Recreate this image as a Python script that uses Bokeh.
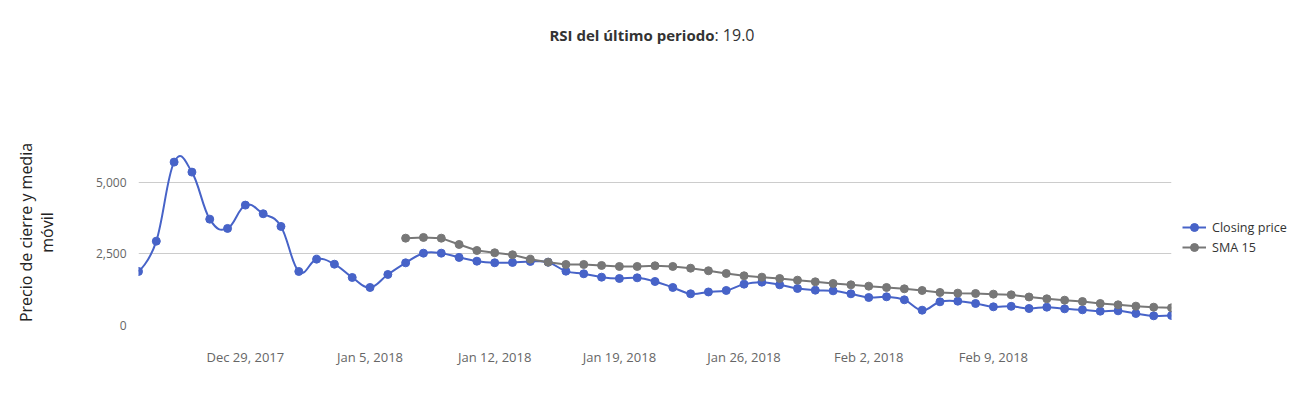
import pandas as pd
from bokeh.plotting import figure
from bokeh.layouts import column
from bokeh.models import (Range1d, FixedTicker, NumeralTickFormatter, Label,
                          Legend, LegendItem, ColumnDataSource)
from bokeh.embed import file_html
from bokeh.resources import INLINE

# ---------------- data ----------------
start_date = "2017-12-23"
closing_price = [1888, 2948, 5710, 5360, 3717, 3392, 4207, 3905, 3462, 1888,
                 2318, 2143, 1678, 1329, 1783, 2190, 2528, 2528, 2378, 2248,
                 2192, 2203, 2238, 2213, 1899, 1807, 1689, 1643, 1667, 1538,
                 1329, 1108, 1172, 1224, 1445, 1515, 1422, 1294, 1235, 1212,
                 1108, 979, 1003, 898, 535, 828, 851, 769, 653, 670,
                 594, 641, 583, 548, 501, 513, 420, 338, 350]
sma_offset = 15  # SMA 15 starts at the 16th day
sma_15 = [3052, 3077, 3052, 2832, 2622, 2542, 2472, 2318, 2213, 2133,
          2133, 2098, 2063, 2063, 2087, 2063, 2003, 1913, 1818, 1737,
          1689, 1643, 1585, 1527, 1469, 1422, 1375, 1329, 1282, 1224,
          1154, 1131, 1119, 1096, 1072, 997, 933, 885, 839, 769,
          723, 676, 641, 618]
x_tick_dates = ["2017-12-29", "2018-01-05", "2018-01-12", "2018-01-19",
                "2018-01-26", "2018-02-02", "2018-02-09"]
x_tick_labels = ["Dec 29, 2017", "Jan 5, 2018", "Jan 12, 2018", "Jan 19, 2018",
                 "Jan 26, 2018", "Feb 2, 2018", "Feb 9, 2018"]
y_ticks = [0, 2500, 5000]
title_bold = "RSI del último periodo"
title_rest = ": 19.0"
y_title = "Precio de cierre y media\nmóvil"
series_names = ["Closing price", "SMA 15"]

# ---------------- styling ----------------
FONT = "Open Sans"
BLUE = "#4763c8"
GRAY = "#777777"
TOP_H = 70
FRAME_LEFT = 138

dates = pd.date_range(start_date, periods=len(closing_price), freq="D")
xs = [d.value / 1e6 for d in dates]  # ms
sma_xs = xs[sma_offset:sma_offset + len(sma_15)]


def spline_segments(x, y, smoothing=1.5):
    """Highcharts-style spline control points, drawn with Bokeh bezier glyphs."""
    n = len(x)
    den = smoothing + 1
    left = [(x[i], y[i]) for i in range(n)]
    right = [(x[i], y[i]) for i in range(n)]
    for i in range(1, n - 1):
        lx = (smoothing * x[i] + x[i - 1]) / den
        ly = (smoothing * y[i] + y[i - 1]) / den
        rx = (smoothing * x[i] + x[i + 1]) / den
        ry = (smoothing * y[i] + y[i + 1]) / den
        corr = (ry - ly) * (rx - x[i]) / (rx - lx) + y[i] - ry
        left[i] = (lx, ly + corr)
        right[i] = (rx, ry + corr)
    seg = dict(x0=[], y0=[], x1=[], y1=[], cx0=[], cy0=[], cx1=[], cy1=[])
    for i in range(n - 1):
        seg["x0"].append(x[i]); seg["y0"].append(y[i])
        seg["x1"].append(x[i + 1]); seg["y1"].append(y[i + 1])
        seg["cx0"].append(right[i][0]); seg["cy0"].append(right[i][1])
        seg["cx1"].append(left[i + 1][0]); seg["cy1"].append(left[i + 1][1])
    return seg


# ---------------- title strip ----------------
top = figure(width=1310, height=TOP_H, output_backend="svg", toolbar_location=None,
             x_range=Range1d(0, 1310), y_range=Range1d(0, TOP_H),
             x_axis_location=None, y_axis_location=None,
             min_border_left=0, min_border_right=0, min_border_top=0, min_border_bottom=0,
             frame_width=1310, frame_height=TOP_H,
             background_fill_color="white", border_fill_color="white")
top.outline_line_color = None
top.grid.visible = False
# the column layout aligns this frame with the main chart's frame (left edge 138)
top.add_layout(Label(x=714 - FRAME_LEFT, y=TOP_H - 34, x_units="screen", y_units="screen",
                     text=title_bold, text_font=FONT, text_font_size="15px",
                     text_font_style="bold", text_color="#333333",
                     text_align="right", text_baseline="middle"))
top.add_layout(Label(x=714 - FRAME_LEFT, y=TOP_H - 34, x_units="screen", y_units="screen",
                     text=title_rest, text_font=FONT, text_font_size="16px",
                     text_color="#333333", text_align="left", text_baseline="middle"))

# ---------------- main chart ----------------
p = figure(x_axis_type="datetime", output_backend="svg", toolbar_location=None,
           frame_width=1033, frame_height=186,
           min_border_left=FRAME_LEFT, min_border_right=139,
           min_border_top=139 - TOP_H, min_border_bottom=84,
           x_range=Range1d(xs[0], xs[-1]), y_range=Range1d(0, 6500),
           background_fill_color="white", border_fill_color="white")
p.outline_line_color = None

p.xaxis.ticker = FixedTicker(ticks=[pd.Timestamp(d).value / 1e6 for d in x_tick_dates])
p.xaxis.major_label_overrides = {pd.Timestamp(d).value / 1e6: lab
                                 for d, lab in zip(x_tick_dates, x_tick_labels)}
p.yaxis.ticker = FixedTicker(ticks=y_ticks)
p.yaxis.formatter = NumeralTickFormatter(format="0,0")
for ax in (p.xaxis, p.yaxis):
    ax.axis_line_color = None
    ax.major_tick_line_color = None
    ax.minor_tick_line_color = None
    ax.major_tick_out = 0
    ax.major_tick_in = 0
    ax.minor_tick_out = 0
    ax.minor_tick_in = 0
    ax.major_label_text_font = FONT
    ax.major_label_text_color = "#666666"
p.xaxis.major_label_text_font_size = "13px"
p.yaxis.major_label_text_font_size = "12px"
p.xaxis.major_label_standoff = 22
p.yaxis.major_label_standoff = 12
p.yaxis.axis_label = y_title
p.yaxis.axis_label_text_font = FONT
p.yaxis.axis_label_text_font_size = "16px"
p.yaxis.axis_label_text_font_style = "normal"
p.yaxis.axis_label_text_color = "#222222"
p.yaxis.axis_label_text_line_height = 0.93
p.yaxis.axis_label_standoff = 35
p.xgrid.grid_line_color = None
p.ygrid.grid_line_color = "#cccccc"
p.ygrid.grid_line_width = 1

seg = spline_segments(xs, closing_price)
r_close_line = p.bezier(x0="x0", y0="y0", x1="x1", y1="y1", cx0="cx0", cy0="cy0",
                        cx1="cx1", cy1="cy1", source=ColumnDataSource(seg),
                        line_color=BLUE, line_width=2)
r_close_pts = p.scatter(xs, closing_price, size=8, fill_color=BLUE, line_color=BLUE)
r_sma_line = p.line(sma_xs, sma_15, line_color=GRAY, line_width=2)
r_sma_pts = p.scatter(sma_xs, sma_15, size=8, fill_color=GRAY, line_color=GRAY)

legend = Legend(items=[LegendItem(label=series_names[0], renderers=[r_close_line, r_close_pts]),
                       LegendItem(label=series_names[1], renderers=[r_sma_line, r_sma_pts])],
                location=(11, 68), margin=0, padding=0, spacing=0,
                glyph_width=24, glyph_height=20, label_height=20, label_standoff=6,
                label_text_font=FONT, label_text_font_size="12.6px",
                label_text_color="#333333", border_line_color=None,
                background_fill_alpha=0)
p.add_layout(legend, "right")

layout = column(top, p, spacing=0)
open("out.html", "w").write(file_html(layout, INLINE))
